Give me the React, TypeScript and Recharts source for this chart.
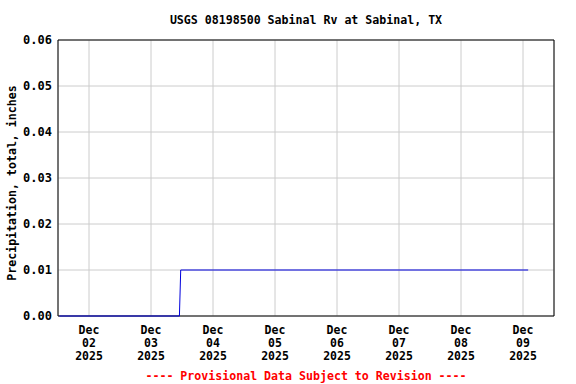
import { LineChart, Line, XAxis, YAxis, CartesianGrid, ReferenceArea } from "recharts"

// cumulative precipitation readings (local times)
const times = [
  "2025-12-01T12:30",
  "2025-12-03T11:00",
  "2025-12-03T11:15",
  "2025-12-03T11:30",
  "2025-12-09T02:00",
]
const precip = [0, 0, 0.005, 0.01, 0.01]

const dayLabels = ["02", "03", "04", "05", "06", "07", "08", "09"]
const yTicks = [0, 0.01, 0.02, 0.03, 0.04, 0.05, 0.06]

const START = Date.parse("2025-12-01T12:00Z")
const toHours = (s: string) => (Date.parse(s + "Z") - START) / 3600000

const data = times.map((t, i) => ({ t: toHours(t), v: precip[i] }))
const xTicks = dayLabels.map((d) => toHours(`2025-12-${d}T00:00`))

const FONT = "'DejaVu Sans Mono', monospace"

const XTick = (props: any) => {
  const { x, y, index } = props
  return (
    <g>
      <text x={x} y={y + 10} textAnchor="middle" fontFamily={FONT} fontWeight="bold" fontSize={11.5} fill="#000">
        Dec
      </text>
      <text x={x} y={y + 23} textAnchor="middle" fontFamily={FONT} fontWeight="bold" fontSize={11.5} fill="#000">
        {dayLabels[index]}
      </text>
      <text x={x} y={y + 36} textAnchor="middle" fontFamily={FONT} fontWeight="bold" fontSize={11.5} fill="#000">
        2025
      </text>
    </g>
  )
}

const YTick = (props: any) => {
  const { x, y, payload } = props
  return (
    <text x={x + 2} y={y + 4} textAnchor="end" fontFamily={FONT} fontWeight="bold" fontSize={12} fill="#000">
      {payload.value.toFixed(2)}
    </text>
  )
}

export default function App() {
  return (
    <div style={{ position: "absolute", left: 0, top: 0, width: 576, height: 384, background: "#fff" }}>
      <LineChart width={576} height={384} data={data} margin={{ top: 40, right: 22, left: 0, bottom: 0 }}>
        <CartesianGrid stroke="#cccccc" strokeWidth={1} />
        <XAxis
          dataKey="t"
          type="number"
          domain={[0, 192]}
          ticks={xTicks}
          height={68}
          tick={<XTick />}
          tickLine={false}
          axisLine={false}
          interval={0}
        />
        <YAxis
          type="number"
          domain={[0, 0.06]}
          ticks={yTicks}
          width={58}
          tick={<YTick />}
          tickLine={false}
          axisLine={false}
          interval={0}
        />
        <ReferenceArea x1={0} x2={192} y1={0} y2={0.06} fill="none" stroke="#000" strokeWidth={1} fillOpacity={0} />
        <Line
          type="linear"
          dataKey="v"
          stroke="#0000dd"
          strokeWidth={1}
          dot={false}
          isAnimationActive={false}
        />
      </LineChart>
      <div
        style={{
          position: "absolute",
          top: 13,
          left: 58,
          width: 496,
          textAlign: "center",
          fontFamily: FONT,
          fontWeight: "bold",
          fontSize: 11.6,
        }}
      >
        USGS 08198500 Sabinal Rv at Sabinal, TX
      </div>
      <div
        style={{
          position: "absolute",
          left: 12,
          top: 183,
          transform: "translate(-50%, -50%) rotate(-90deg)",
          whiteSpace: "nowrap",
          fontFamily: FONT,
          fontWeight: "bold",
          fontSize: 11.6,
        }}
      >
        Precipitation, total, inches
      </div>
      <div
        style={{
          position: "absolute",
          top: 369,
          left: 58,
          width: 496,
          textAlign: "center",
          fontFamily: FONT,
          fontWeight: "bold",
          fontSize: 11.6,
          color: "#ff0000",
        }}
      >
        ---- Provisional Data Subject to Revision ----
      </div>
    </div>
  )
}
